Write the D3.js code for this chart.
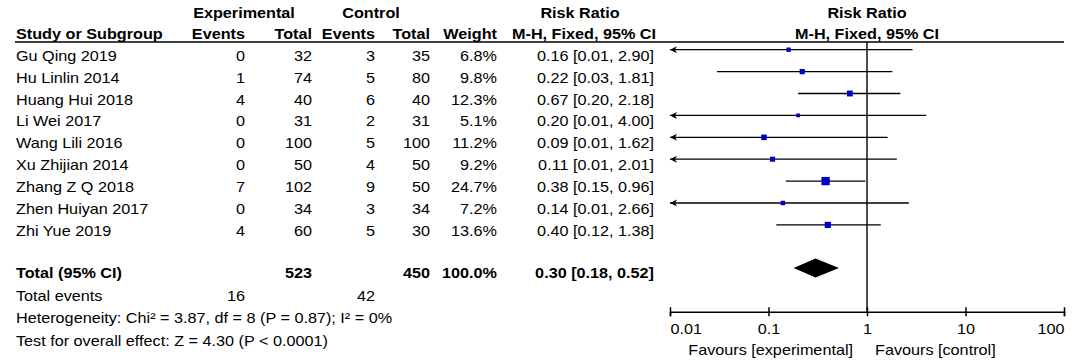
<!DOCTYPE html>
<html>
<head>
<meta charset="utf-8">
<script src="https://cdn.jsdelivr.net/npm/d3@7"></script>
<style>
  html, body { margin: 0; padding: 0; background: #fff; }
  svg text { font-family: "Liberation Sans", Arial, sans-serif; font-size: 15px; fill: #000; }
</style>
</head>
<body>
<div id="chart"></div>
<script>
// study data
const studies = ['Gu Qing 2019', 'Hu Linlin 2014', 'Huang Hui 2018', 'Li Wei 2017', 'Wang Lili 2016',
    'Xu Zhijian 2014', 'Zhang Z Q 2018', 'Zhen Huiyan 2017', 'Zhi Yue 2019'];
const expEvents = [0, 1, 4, 0, 0, 0, 7, 0, 4];
const expTotal = [32, 74, 40, 31, 100, 50, 102, 34, 60];
const ctrlEvents = [3, 5, 6, 2, 5, 4, 9, 3, 5];
const ctrlTotal = [35, 80, 40, 31, 100, 50, 50, 34, 30];
const weights = [6.8, 9.8, 12.3, 5.1, 11.2, 9.2, 24.7, 7.2, 13.6];
const rr = [0.16, 0.22, 0.67, 0.20, 0.09, 0.11, 0.38, 0.14, 0.40];
const lower = [0.01, 0.03, 0.20, 0.01, 0.01, 0.01, 0.15, 0.01, 0.12];
const upper = [2.90, 1.81, 2.18, 4.00, 1.62, 2.01, 0.96, 2.66, 1.38];

// pooled
const pooled = [0.30, 0.18, 0.52];
const totalN = [523, 450];
const totalEvents = [16, 42];

// axis
const tickValues = [0.01, 0.1, 1, 10, 100];
const tickLabels = ['0.01', '0.1', '1', '10', '100'];

const W = 1084, H = 361;
const SX = 1.08; // text in the source is slightly wide
const ROW0 = 60.7, ROWH = 21.9;
const col = { study: 16, expEv: 245, expTot: 312, ctlEv: 375, ctlTot: 430, weight: 497, rr: 654 };

const svg = d3.select('#chart').append('svg').attr('width', W).attr('height', H);

const x = d3.scaleLog().domain([0.01, 100]).range([670, 1064]);
const yRow = i => ROW0 + i * ROWH;

function txt(sel, px, py, s, anchor = 'start', bold = false) {
    return sel.append('text')
        .attr('transform', `translate(${px},${py}) scale(${SX},1)`)
        .attr('text-anchor', anchor)
        .attr('font-weight', bold ? 'bold' : 'normal')
        .text(s);
}

// headers
const hd = svg.append('g');
txt(hd, 244, 18, 'Experimental', 'middle', true);
txt(hd, 371, 18, 'Control', 'middle', true);
txt(hd, 580, 18, 'Risk Ratio', 'middle', true);
txt(hd, x(1), 18, 'Risk Ratio', 'middle', true);
txt(hd, col.study, 38.5, 'Study or Subgroup', 'start', true);
txt(hd, col.expEv, 38.5, 'Events', 'end', true);
txt(hd, col.expTot, 38.5, 'Total', 'end', true);
txt(hd, col.ctlEv, 38.5, 'Events', 'end', true);
txt(hd, col.ctlTot, 38.5, 'Total', 'end', true);
txt(hd, col.weight, 38.5, 'Weight', 'end', true);
txt(hd, 584, 38.5, 'M-H, Fixed, 95% CI', 'middle', true);
txt(hd, x(1), 38.5, 'M-H, Fixed, 95% CI', 'middle', true);

svg.append('line')
    .attr('x1', 15).attr('x2', 1064)
    .attr('y1', 42).attr('y2', 42)
    .attr('stroke', '#000').attr('stroke-width', 1.6);

// table rows
const f2 = d3.format('.2f');
const tb = svg.append('g');
studies.forEach((s, i) => {
    const y = yRow(i);
    txt(tb, col.study, y, s);
    txt(tb, col.expEv, y, expEvents[i], 'end');
    txt(tb, col.expTot, y, expTotal[i], 'end');
    txt(tb, col.ctlEv, y, ctrlEvents[i], 'end');
    txt(tb, col.ctlTot, y, ctrlTotal[i], 'end');
    txt(tb, col.weight, y, weights[i].toFixed(1) + '%', 'end');
    txt(tb, col.rr, y, `${f2(rr[i])} [${f2(lower[i])}, ${f2(upper[i])}]`, 'end');
});

const yTot = 278.3;
txt(tb, col.study, yTot, 'Total (95% CI)', 'start', true);
txt(tb, col.expTot, yTot, totalN[0], 'end', true);
txt(tb, col.ctlTot, yTot, totalN[1], 'end', true);
txt(tb, col.weight, yTot, '100.0%', 'end', true);
txt(tb, col.rr, yTot, `${f2(pooled[0])} [${f2(pooled[1])}, ${f2(pooled[2])}]`, 'end', true);

txt(tb, col.study, 301, 'Total events');
txt(tb, col.expEv, 301, totalEvents[0], 'end');
txt(tb, col.ctlEv, 301, totalEvents[1], 'end');
txt(tb, col.study, 323.3, 'Heterogeneity: Chi\u00b2 = 3.87, df = 8 (P = 0.87); I\u00b2 = 0%');
txt(tb, col.study, 345.7, 'Test for overall effect: Z = 4.30 (P < 0.0001)');

// plot
const axisY = 311.7;
const pl = svg.append('g');

pl.append('line')
    .attr('x1', x(1)).attr('x2', x(1))
    .attr('y1', 42).attr('y2', axisY)
    .attr('stroke', '#000').attr('stroke-width', 1.4);

studies.forEach((s, i) => {
    const cy = yRow(i) - 11;
    const lo = Math.max(lower[i], 0.01);
    pl.append('line')
        .attr('x1', x(lo)).attr('x2', x(upper[i]))
        .attr('y1', cy).attr('y2', cy)
        .attr('stroke', '#000').attr('stroke-width', 1.3);
    if (lower[i] <= 0.01) {
        const ax = x(0.01);
        pl.append('path')
            .attr('d', `M${ax},${cy}L${ax + 7},${cy - 3.5}L${ax + 5},${cy}L${ax + 7},${cy + 3.5}Z`)
            .attr('fill', '#000');
    }
    const side = 1.67 * Math.sqrt(weights[i]);
    pl.append('rect')
        .attr('x', x(rr[i]) - side / 2).attr('y', cy - side / 2)
        .attr('width', side).attr('height', side)
        .attr('fill', '#0000c8');
});

// pooled diamond
const dy = yTot - 10.3;
pl.append('path')
    .attr('d', `M${x(pooled[1])},${dy}L${x(pooled[0])},${dy - 9.5}L${x(pooled[2])},${dy}L${x(pooled[0])},${dy + 9.5}Z`)
    .attr('fill', '#000');

// axis
const axis = d3.axisBottom(x)
    .tickValues(tickValues)
    .tickFormat((d, i) => tickLabels[i])
    .tickSizeOuter(0)
    .tickSize(4.5)
    .tickPadding(8);

const ag = svg.append('g')
    .attr('transform', `translate(0,${axisY})`)
    .call(axis);
ag.attr('font-size', null).attr('font-family', null);
ag.select('.domain').attr('stroke', '#000').attr('stroke-width', 1.5);
ag.selectAll('.tick line').attr('y1', -4.5).attr('stroke', '#000').attr('stroke-width', 1.5);
ag.selectAll('.tick text')
    .attr('fill', '#000')
    .attr('transform', `scale(${SX},1)`)
    .attr('y', 22.6).attr('dy', null)
    .attr('text-anchor', (d, i) => i === 0 ? 'start' : (i === tickValues.length - 1 ? 'end' : 'middle'));

txt(svg, x(1) - 14, 355, 'Favours [experimental]', 'end');
txt(svg, x(1) + 8, 355, 'Favours [control]', 'start');
</script>
</body>
</html>
